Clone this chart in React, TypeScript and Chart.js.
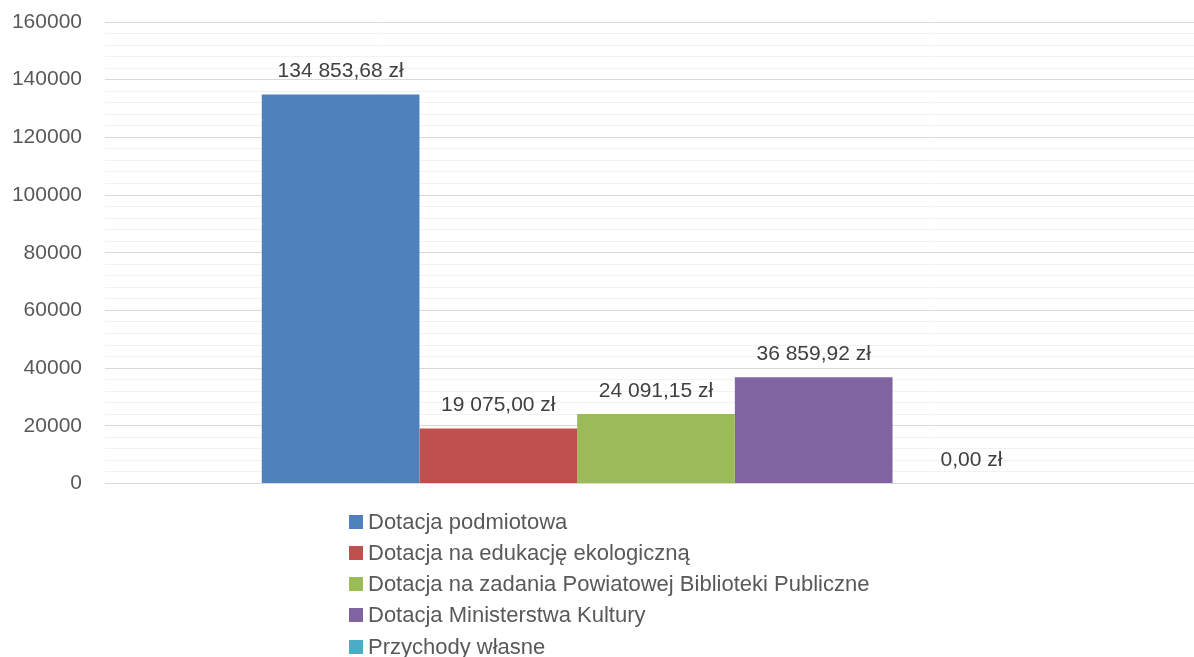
import React, { useEffect, useRef } from "react";
import { Chart, registerables } from "chart.js";

Chart.register(...registerables);

const categories = [""];
const seriesNames = [
  "Dotacja podmiotowa",
  "Dotacja na edukację ekologiczną",
  "Dotacja na zadania Powiatowej Biblioteki Publiczne",
  "Dotacja Ministerstwa Kultury",
  "Przychody własne",
];
const seriesValues = [134853.68, 19075.0, 24091.15, 36859.92, 0.0];
const seriesColors = ["#4F81BD", "#C0504D", "#9BBB59", "#8064A2", "#4BACC6"];

const FONT = "'Liberation Sans', Arial, sans-serif";

function formatZl(v: number): string {
  const fixed = v.toFixed(2);
  const [intPart, dec] = fixed.split(".");
  const grouped = intPart.replace(/\B(?=(\d{3})+(?!\d))/g, " ");
  return `${grouped},${dec} zł`;
}

const dataLabelPlugin = {
  id: "dataLabels",
  afterDatasetsDraw(chart: any) {
    const ctx = chart.ctx;
    ctx.save();
    ctx.font = `21px ${FONT}`;
    ctx.fillStyle = "#404040";
    ctx.textAlign = "center";
    ctx.textBaseline = "alphabetic";
    chart.data.datasets.forEach((ds: any, i: number) => {
      const meta = chart.getDatasetMeta(i);
      meta.data.forEach((bar: any, j: number) => {
        const v = ds.data[j];
        ctx.fillText(formatZl(v), bar.x, bar.y - 17.5);
      });
    });
    ctx.restore();
  },
};

const customLegendPlugin = {
  id: "customLegend",
  afterDraw(chart: any) {
    const ctx = chart.ctx;
    ctx.save();
    ctx.font = `22px ${FONT}`;
    ctx.textAlign = "left";
    ctx.textBaseline = "middle";
    const x0 = 349;
    const y0 = 521.5;
    const step = 31.3;
    chart.data.datasets.forEach((ds: any, i: number) => {
      const cy = y0 + i * step;
      ctx.fillStyle = ds.backgroundColor;
      ctx.fillRect(x0, Math.round(cy - 7), 14, 14);
      ctx.fillStyle = "#595959";
      ctx.fillText(ds.label, x0 + 19, cy + 1);
    });
    ctx.restore();
  },
};

export default function App() {
  const canvasRef = useRef<HTMLCanvasElement | null>(null);

  useEffect(() => {
    document.body.style.margin = "0";
    const canvas = canvasRef.current;
    if (!canvas) return;
    const chart = new Chart(canvas, {
      type: "bar",
      data: {
        labels: categories,
        datasets: seriesNames.map((name, i) => ({
          label: name,
          data: [seriesValues[i]],
          backgroundColor: seriesColors[i],
          borderWidth: 0,
          barPercentage: 1,
          categoryPercentage: 0.7155,
        })),
      },
      options: {
        animation: false,
        responsive: true,
        maintainAspectRatio: false,
        layout: {
          padding: { top: 22, left: 8, right: 0, bottom: 173.5 },
        },
        plugins: {
          legend: { display: false },
          tooltip: { enabled: false },
        },
        scales: {
          x: {
            display: false,
            grid: { display: false },
          },
          y: {
            min: 0,
            max: 160000,
            afterFit: (scale: any) => {
              scale.width = 97;
              scale.paddingTop = 0;
              scale.paddingBottom = 0;
            },
            border: { display: false },
            grid: {
              drawTicks: false,
              color: (c: any) =>
                c.tick && c.tick.value % 20000 === 0 ? "#D9D9D9" : "#F2F2F2",
              lineWidth: 1,
            },
            ticks: {
              stepSize: 4000,
              autoSkip: false,
              padding: 23,
              color: "#595959",
              font: { family: FONT, size: 21 },
              callback: (v: any) => (Number(v) % 20000 === 0 ? String(v) : ""),
            },
          },
        },
      },
      plugins: [dataLabelPlugin, customLegendPlugin],
    });
    return () => chart.destroy();
  }, []);

  return (
    <div style={{ width: 1194, height: 657, overflow: "hidden" }}>
      <div style={{ position: "relative", width: 1207, height: 657 }}>
        <canvas ref={canvasRef} />
      </div>
    </div>
  );
}
